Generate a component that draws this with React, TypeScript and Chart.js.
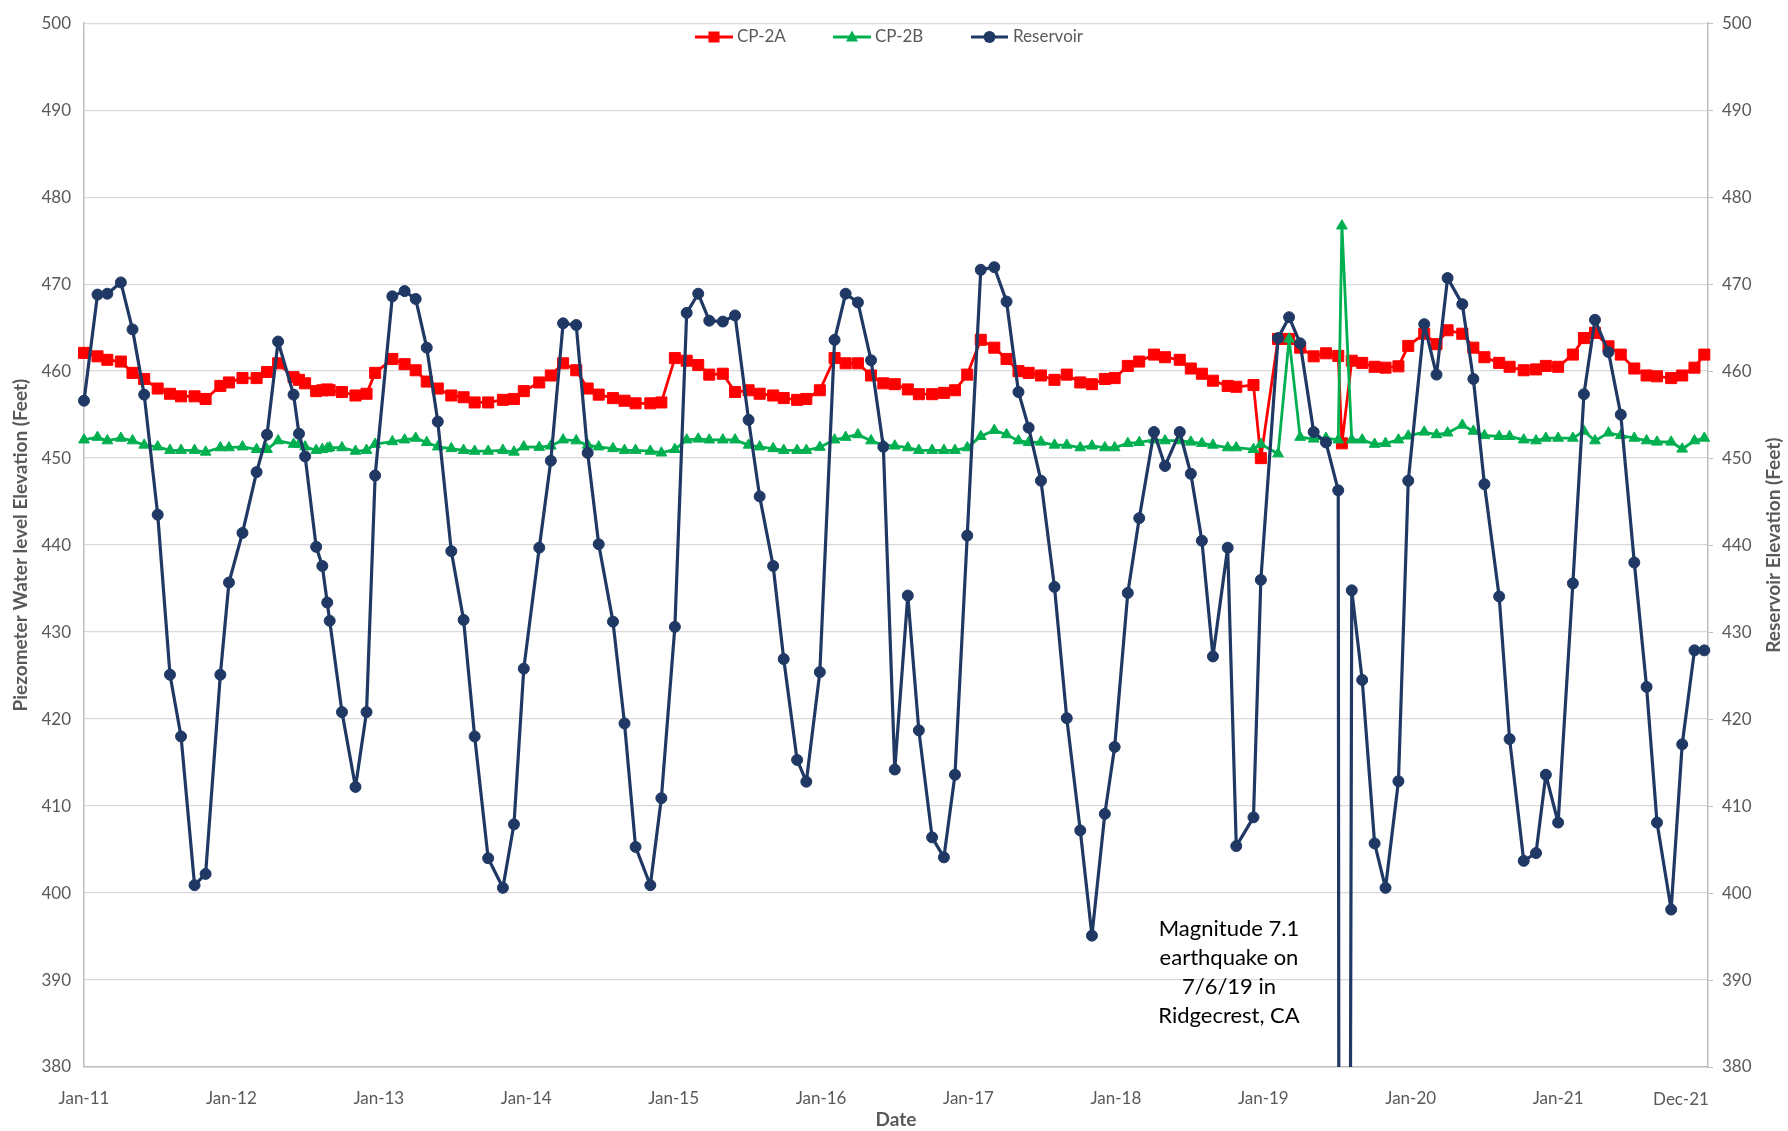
import React, { useEffect, useRef } from 'react';
import { Chart, registerables } from 'chart.js';

Chart.register(...registerables);

// x positions: months since Jan-2011 (sampling dates are irregular)
const months = [
  0, 1.1, 1.9, 3.0, 3.95, 4.9, 6.0, 7.0, 7.9, 9.0, 9.9, 11.1, 11.8, 12.9, 14.05, 14.9, 15.8, 17.06, 17.5, 18.0,
  18.9, 19.4, 19.8, 20.0, 21.0, 22.1, 23.0, 23.7, 25.1, 26.1, 27.0, 27.9, 28.8, 29.9, 30.9, 31.8, 32.9, 34.1, 35.0, 35.8,
  37.06, 38.0, 39.0, 40.07, 41.0, 41.9, 43.06, 44.0, 44.9, 46.1, 47.0, 48.1, 49.06, 50.0, 50.9, 52.0, 53.0, 54.1, 55.0, 56.1,
  56.96, 58.05, 58.8, 59.9, 61.1, 62.0, 63.0, 64.07, 65.07, 66.0, 67.06, 67.96, 69.04, 70.0, 70.9, 71.9, 73.0, 74.1, 75.1, 76.07,
  76.9, 77.9, 79.0, 80.0, 81.1, 82.05, 83.1, 83.9, 84.97, 85.9, 87.1, 88.0, 89.2, 90.1, 91.0, 91.9, 93.1, 93.8, 95.2, 95.8,
  97.2, 98.1, 99.0, 100.1, 101.1, 102.1, 102.4, 103.2, 104.05, 105.06, 105.95, 107.0, 107.8, 109.1, 110.1, 111.0, 112.2, 113.1, 114.0, 115.2,
  116.05, 117.2, 118.2, 119.0, 120.0, 121.2, 122.1, 123.0, 124.1, 125.1, 126.2, 127.2, 128.05, 129.2, 130.1, 131.1, 131.9,
];

const reservoir = [
  456.6, 468.8, 468.9, 470.2, 464.8, 457.3, 443.5, 425.1, 418.0, 400.9, 402.2, 425.1, 435.7, 441.4, 448.4, 452.7, 463.4, 457.3, 452.8, 450.2,
  439.8, 437.6, 433.4, 431.3, 420.8, 412.2, 420.8, 448.0, 468.6, 469.2, 468.3, 462.7, 454.2, 439.3, 431.4, 418.0, 404.0, 400.6, 407.9, 425.8,
  439.7, 449.7, 465.5, 465.3, 450.6, 440.1, 431.2, 419.5, 405.3, 400.9, 410.9, 430.6, 466.7, 468.9, 465.8, 465.7, 466.4, 454.4, 445.6, 437.6,
  426.9, 415.3, 412.8, 425.4, 463.6, 468.9, 467.9, 461.25, 451.3, 414.2, 434.2, 418.7, 406.4, 404.1, 413.6, 441.1, 471.65, 471.95, 468.0, 457.6,
  453.5, 447.4, 435.2, 420.1, 407.2, 395.1, 409.1, 416.8, 434.5, 443.1, 453.0, 449.1, 453.0, 448.2, 440.5, 427.2, 439.7, 405.4, 408.7, 436.0,
  463.8, 466.2, 463.2, 453.0, 451.8, 446.3, 0, 434.8, 424.5, 405.7, 400.6, 412.85, 447.4, 465.4, 459.6, 470.7, 467.7, 459.1, 447.0, 434.1,
  417.7, 403.7, 404.6, 413.6, 408.1, 435.6, 457.35, 465.9, 462.2, 455.0, 438.0, 423.7, 408.1, 398.1, 417.1, 427.9, 427.9,
];

const cp2a = [
  462.1, 461.7, 461.3, 461.1, 459.8, 459.1, 458.0, 457.4, 457.1, 457.1, 456.8, 458.3, 458.7, 459.2, 459.2, 459.9, 460.9, 459.3, 459.0, 458.6,
  457.7, 457.8, 457.9, 457.8, 457.6, 457.2, 457.4, 459.8, 461.4, 460.8, 460.1, 458.8, 458.0, 457.2, 457.0, 456.4, 456.4, 456.7, 456.8, 457.7,
  458.7, 459.5, 460.9, 460.1, 458.0, 457.3, 456.9, 456.6, 456.3, 456.3, 456.4, 461.5, 461.2, 460.7, 459.6, 459.7, 457.6, 457.8, 457.4, 457.2,
  456.9, 456.7, 456.8, 457.8, 461.5, 460.9, 460.9, 459.5, 458.6, 458.5, 457.9, 457.35, 457.35, 457.5, 457.8, 459.6, 463.6, 462.7, 461.4, 460.0,
  459.8, 459.5, 459.0, 459.6, 458.7, 458.5, 459.1, 459.2, 460.6, 461.1, 461.9, 461.6, 461.3, 460.3, 459.7, 458.9, 458.3, 458.2, 458.4, 450.0,
  463.7, 463.7, 462.7, 461.7, 462.05, 461.75, 451.7, 461.2, 460.95, 460.5, 460.4, 460.55, 462.9, 464.3, 463.1, 464.7, 464.3, 462.7, 461.6, 460.95,
  460.5, 460.1, 460.2, 460.6, 460.5, 461.9, 463.8, 464.4, 462.85, 461.9, 460.3, 459.5, 459.4, 459.2, 459.5, 460.4, 461.9,
];

const cp2b = [
  452.1, 452.4, 452.0, 452.3, 452.0, 451.5, 451.3, 450.9, 450.9, 450.9, 450.7, 451.2, 451.2, 451.3, 451.0, 451.0, 452.0, 451.6, 451.6, 451.3,
  450.9, 451.0, 451.1, 451.2, 451.2, 450.8, 450.9, 451.6, 451.9, 452.1, 452.3, 451.8, 451.3, 451.1, 450.9, 450.8, 450.8, 450.9, 450.7, 451.3,
  451.25, 451.4, 452.1, 452.0, 451.5, 451.3, 451.1, 450.9, 450.9, 450.8, 450.6, 451.0, 452.1, 452.2, 452.1, 452.1, 452.1, 451.5, 451.3, 451.1,
  450.9, 450.9, 450.9, 451.25, 452.1, 452.4, 452.7, 452.0, 451.5, 451.4, 451.2, 450.9, 450.9, 450.9, 450.9, 451.2, 452.5, 453.2, 452.7, 452.0,
  451.8, 451.85, 451.5, 451.5, 451.2, 451.4, 451.2, 451.2, 451.7, 451.8, 452.1, 452.0, 452.0, 451.85, 451.7, 451.5, 451.2, 451.2, 451.0, 451.6,
  450.5, 463.7, 452.4, 452.2, 452.3, 452.1, 476.7, 452.1, 452.1, 451.6, 451.7, 452.1, 452.55, 453.0, 452.7, 452.9, 453.8, 453.1, 452.6, 452.5,
  452.5, 452.1, 452.0, 452.3, 452.3, 452.3, 453.1, 452.0, 452.9, 452.6, 452.3, 452.0, 451.85, 451.85, 451.05, 452.0, 452.3,
];

const tickMonths = [0, 12, 24, 36, 48, 60, 72, 84, 96, 108, 120];
const tickLabels = ['Jan-11', 'Jan-12', 'Jan-13', 'Jan-14', 'Jan-15', 'Jan-16', 'Jan-17', 'Jan-18', 'Jan-19', 'Jan-20', 'Jan-21'];
const endLabelMonth = 130;
const endLabel = 'Dec-21';
const yMin = 380;
const yMax = 500;
const yStep = 10;
const seriesNames = ['CP-2A', 'CP-2B', 'Reservoir'];
const annotationLines = ['Magnitude 7.1', 'earthquake on', '7/6/19 in', 'Ridgecrest, CA'];

const RED = '#FF0000';
const GREEN = '#00B050';
const NAVY = '#1F3864';
const GRAY_TEXT = '#595959';
const FONT = 'Lato, "Open Sans", sans-serif';

const overlay = {
  id: 'overlay',
  afterDraw(chart: any) {
    const ctx = chart.ctx as CanvasRenderingContext2D;
    const area = chart.chartArea;
    const xs = chart.scales.x;
    ctx.save();
    // axis titles
    ctx.fillStyle = GRAY_TEXT;
    ctx.font = `bold 19px ${FONT}`;
    ctx.textAlign = 'center';
    ctx.textBaseline = 'middle';
    ctx.fillText('Date', (area.left + area.right) / 2, 1120);
    const midY = (area.top + area.bottom) / 2;
    ctx.save();
    ctx.translate(21, midY);
    ctx.rotate(-Math.PI / 2);
    ctx.fillText('Piezometer Water level Elevation (Feet)', 0, 0);
    ctx.restore();
    ctx.save();
    ctx.translate(1774, midY);
    ctx.rotate(-Math.PI / 2);
    ctx.fillText('Reservoir Elevation (Feet)', 0, 0);
    ctx.restore();

    // end label
    ctx.font = `17px ${FONT}`;
    ctx.fillText(endLabel, xs.getPixelForValue(endLabelMonth), 1100);

    // legend
    const ly = 37;
    const items = [
      { x0: 695, x1: 733, tx: 737, color: RED, shape: 'rect', name: seriesNames[0] },
      { x0: 833, x1: 871, tx: 875, color: GREEN, shape: 'tri', name: seriesNames[1] },
      { x0: 971, x1: 1008, tx: 1013, color: NAVY, shape: 'circle', name: seriesNames[2] },
    ];
    items.forEach((it) => {
      ctx.strokeStyle = it.color;
      ctx.fillStyle = it.color;
      ctx.lineWidth = 3;
      ctx.beginPath();
      ctx.moveTo(it.x0, ly);
      ctx.lineTo(it.x1, ly);
      ctx.stroke();
      const cx = (it.x0 + it.x1) / 2;
      ctx.beginPath();
      if (it.shape === 'rect') {
        ctx.rect(cx - 5.5, ly - 5.5, 11, 11);
      } else if (it.shape === 'tri') {
        ctx.moveTo(cx, ly - 6.5);
        ctx.lineTo(cx + 6, ly + 4.5);
        ctx.lineTo(cx - 6, ly + 4.5);
        ctx.closePath();
      } else {
        ctx.arc(cx, ly, 6, 0, Math.PI * 2);
      }
      ctx.fill();
      ctx.fillStyle = GRAY_TEXT;
      ctx.font = `17px ${FONT}`;
      ctx.textAlign = 'left';
      ctx.textBaseline = 'middle';
      ctx.fillText(it.name, it.tx, ly);
    });

    // earthquake annotation
    ctx.fillStyle = '#000000';
    ctx.font = `22px ${FONT}`;
    ctx.textAlign = 'center';
    ctx.textBaseline = 'middle';
    annotationLines.forEach((line, i) => {
      ctx.fillText(line, 1229, 929 + i * 29);
    });
    ctx.restore();
  },
};

export default function App() {
  const canvasRef = useRef<HTMLCanvasElement | null>(null);

  useEffect(() => {
    if (!canvasRef.current) return;
    Chart.defaults.font.family = FONT;
    Chart.defaults.font.size = 17;
    Chart.defaults.color = GRAY_TEXT;

    const toPts = (vals: number[]) => months.map((m, i) => ({ x: m, y: vals[i] }));
    const clip = { left: 12, top: 12, right: 12, bottom: 0 };
    const common = { tension: 0, borderJoinStyle: 'round', borderCapStyle: 'round', pointBorderWidth: 1, clip };

    const chart = new Chart(canvasRef.current, {
      type: 'line',
      data: {
        datasets: [
          {
            ...common,
            label: seriesNames[2],
            data: toPts(reservoir),
            borderColor: NAVY,
            backgroundColor: NAVY,
            borderWidth: 3.2,
            pointStyle: 'circle',
            pointRadius: 5.5,
            pointBorderColor: NAVY,
            pointBackgroundColor: NAVY,
          } as any,
          {
            ...common,
            label: seriesNames[1],
            data: toPts(cp2b),
            borderColor: GREEN,
            backgroundColor: GREEN,
            borderWidth: 2.8,
            pointStyle: 'triangle',
            pointRadius: 6.2,
            pointBorderColor: GREEN,
            pointBackgroundColor: GREEN,
          } as any,
          {
            ...common,
            label: seriesNames[0],
            data: toPts(cp2a),
            borderColor: RED,
            backgroundColor: RED,
            borderWidth: 2.8,
            pointStyle: 'rect',
            pointRadius: 7.8,
            pointBorderColor: RED,
            pointBackgroundColor: RED,
          } as any,
        ],
      },
      options: {
        responsive: false,
        animation: false,
        devicePixelRatio: 1,
        layout: { padding: { top: 17, left: 0, right: 0, bottom: 0 } },
        plugins: {
          legend: { display: false },
          tooltip: { enabled: false },
        },
        scales: {
          x: {
            type: 'linear',
            min: 0,
            max: 132.2,
            grid: { display: false },
            border: { display: true, color: '#BFBFBF', width: 1.5 },
            afterBuildTicks: (scale: any) => {
              scale.ticks = tickMonths.map((v) => ({ value: v }));
            },
            afterFit: (scale: any) => {
              scale.height = 64;
            },
            ticks: {
              autoSkip: false,
              maxRotation: 0,
              padding: 13,
              color: GRAY_TEXT,
              font: { size: 17 },
              callback: (_v: any, i: number) => tickLabels[i],
            },
          },
          y: {
            type: 'linear',
            position: 'left',
            min: yMin,
            max: yMax,
            grid: { color: '#D9D9D9', lineWidth: 1.3, drawTicks: false },
            border: { display: true, color: '#BFBFBF', width: 1.5 },
            afterFit: (scale: any) => {
              scale.width = 84;
            },
            ticks: { stepSize: yStep, padding: 13, color: GRAY_TEXT, font: { size: 17 } },
          },
          y1: {
            type: 'linear',
            position: 'right',
            min: yMin,
            max: yMax,
            grid: { drawOnChartArea: false, drawTicks: true, tickLength: 5, color: '#BFBFBF' },
            border: { display: true, color: '#BFBFBF', width: 1.5 },
            afterFit: (scale: any) => {
              scale.width = 80;
            },
            ticks: { stepSize: yStep, padding: 9, color: GRAY_TEXT, font: { size: 17 } },
          },
        },
      } as any,
      plugins: [overlay],
    });

    return () => chart.destroy();
  }, []);

  return (
    <div style={{ position: 'fixed', left: 0, top: 0, width: 1788, height: 1131, background: '#FFFFFF' }}>
      <canvas ref={canvasRef} width={1788} height={1131} style={{ width: 1788, height: 1131, display: 'block' }} />
    </div>
  );
}
